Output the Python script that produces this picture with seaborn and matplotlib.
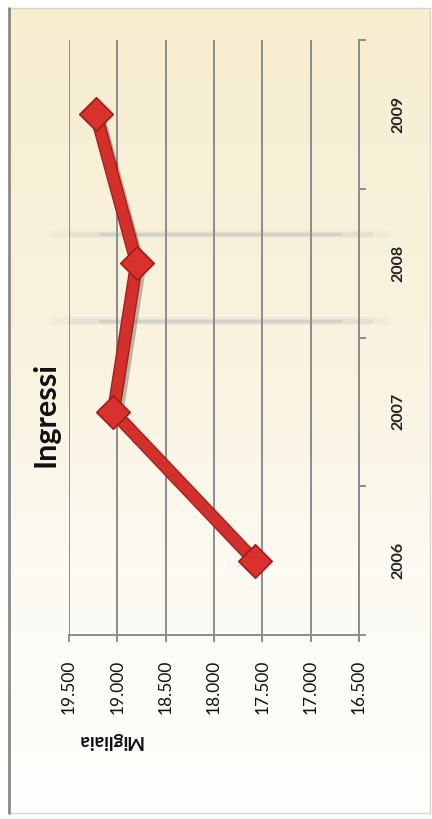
import numpy as np
import matplotlib
matplotlib.use("Agg")
import matplotlib.pyplot as plt
import matplotlib.patheffects as pe
from matplotlib.colors import LinearSegmentedColormap
import seaborn as sns

# dati (migliaia)
anni = [2006, 2007, 2008, 2009]
ingressi = [17580, 19040, 18800, 19220]
valori_tick = [16500, 17000, 17500, 18000, 18500, 19000, 19500]
etichette_tick = ["16.500", "17.000", "17.500", "18.000", "18.500", "19.000", "19.500"]

sns.set_style("white")
plt.rcParams['font.family'] = ['Lato', 'DejaVu Sans']

W, H = 432, 819
fig = plt.figure(figsize=(W / 100, H / 100), dpi=100)
fig.patch.set_facecolor("white")

# sfondo con sfumatura crema -> bianco
bg = fig.add_axes([0, 0, 1, 1])
bg.set_xlim(0, W)
bg.set_ylim(H, 0)
bg.axis("off")
cmap = LinearSegmentedColormap.from_list(
    "crema", [(0, "#f7eed0"), (0.45, "#f9f3e0"), (0.7, "#fcfaf2"), (1, "#fefefd")])
grad = np.linspace(0, 1, 256).reshape(-1, 1)
bg.imshow(grad, cmap=cmap, aspect="auto", extent=(9, 430, 813, 8), zorder=0)
bg.plot([9, 430, 430, 9], [8, 8, 813, 813], color="#d8d4c8", lw=1, zorder=1)
bg.plot([9, 9], [8, 813], color="#8a8a8a", lw=2, zorder=1)
# ombre orizzontali sfumate
for y in (234, 321):
    for lw, a, x0, x1 in ((6, 0.06, 55, 385), (3.5, 0.12, 70, 370), (2, 0.2, 100, 340)):
        bg.plot([x0, x1], [y, y], color="#8a93a3", lw=lw, alpha=a,
                solid_capstyle="round", zorder=1)

# grafico ruotato: valori in orizzontale, anni in verticale
ax = fig.add_axes([69 / W, (H - 635) / H, 290 / W, 595 / H])
ax.patch.set_alpha(0)
ax.set_zorder(2)

grigio = "#8c8c8c"
ax.grid(axis="x", color=grigio, lw=1.4)
ax.grid(axis="y", visible=False)

sns.lineplot(x=ingressi, y=anni, orient="y", sort=False, ax=ax,
             color="#d3302c", linewidth=7.5, zorder=3,
             path_effects=[pe.SimpleLineShadow(offset=(3, -3), alpha=0.25),
                           pe.Stroke(linewidth=9.5, foreground="#a51f1d"),
                           pe.Normal()])
sns.scatterplot(x=ingressi, y=anni, ax=ax, marker="D", s=290,
                color="#d9322e", edgecolor="#a01c1a", linewidth=1.2, zorder=4)

ax.set_xlim(19500, 16500)
ax.set_ylim(2005.5, 2009.5)
ax.set_xticks(valori_tick)
ax.set_xticklabels(etichette_tick, rotation=90, fontsize=12.5)
ax.tick_params(axis="x", direction="out", length=5, width=1.4, color=grigio,
               pad=13, labelcolor="#111111", bottom=True)

ax.yaxis.tick_right()
ax.set_yticks(anni)
ax.set_yticklabels([str(a) for a in anni], rotation=90, fontsize=11.5,
                   fontweight="bold", va="center")
ax.set_yticks([2005.5, 2006.5, 2007.5, 2008.5, 2009.5], minor=True)
ax.tick_params(axis="y", which="major", length=0, pad=23, labelcolor="#222222")
ax.tick_params(axis="y", which="minor", direction="out", length=5, width=1.4,
               color=grigio, right=True, left=False)

for s in ("left", "top"):
    ax.spines[s].set_visible(False)
for s in ("right", "bottom"):
    ax.spines[s].set_color(grigio)
    ax.spines[s].set_linewidth(1.4)
ax.set_xlabel("")
ax.set_ylabel("")

fig.text(46 / W, 1 - 414 / H, "Ingressi", rotation=90, fontsize=22,
         fontweight="bold", ha="center", va="center", color="#111111")
fig.text(110 / W, 1 - 740 / H, "Migliaia", rotation=180, fontsize=13.5,
         fontweight="bold", ha="center", va="center", color="#111111")

fig.savefig("out.png", dpi=100)
